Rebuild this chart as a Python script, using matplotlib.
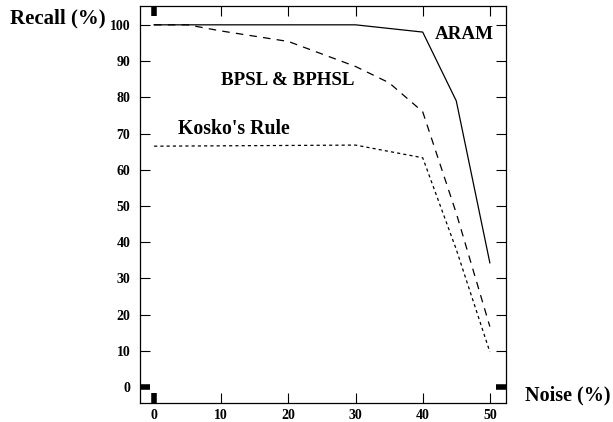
import matplotlib
matplotlib.use("Agg")
import matplotlib.pyplot as plt

noise_aram = [0, 30, 40, 45, 50]
recall_aram = [100, 100, 98, 79, 34.3]

noise_bpsl = [0, 5, 10, 20, 30, 35, 40, 45, 50]
recall_bpsl = [100, 100, 98.3, 95.4, 88.5, 84, 76, 48, 16.7]

noise_kosko = [0, 30, 40, 45, 50]
recall_kosko = [66.5, 66.8, 63.3, 38, 9.7]

xticks = [0, 10, 20, 30, 40, 50]
yticks = [0, 10, 20, 30, 40, 50, 60, 70, 80, 90, 100]

plt.rcParams['font.family'] = ['Liberation Serif', 'DejaVu Serif']

fig = plt.figure(figsize=(6.13, 4.22), dpi=100)
ax = fig.add_axes([0.2284, 0.045, 0.597, 0.9408])

ax.plot(noise_aram, recall_aram, color='black', lw=0.9)
ax.plot(noise_bpsl, recall_bpsl, color='black', lw=0.9, linestyle=(0, (6, 5)))
ax.plot(noise_kosko, recall_kosko, color='black', lw=0.9, linestyle=(0, (2.5, 2.5)))

ax.set_xlim(-2.1, 52.4)
ax.set_ylim(-4.4, 105.2)
ax.set_xticks(xticks)
ax.set_yticks(yticks)
ax.set_xticklabels([str(t) for t in xticks], fontweight='bold', fontsize=10)
ax.set_yticklabels([str(t) for t in yticks], fontweight='bold', fontsize=10)
ax.tick_params(axis='y', direction='in', length=7, width=0.8, right=True, pad=7)
ax.tick_params(axis='x', direction='in', length=7, width=0.8, top=True, pad=4)
for s in ax.spines.values():
    s.set_linewidth(0.9)

# thick zero ticks
xt = ax.xaxis.get_major_ticks()[0]
xt.tick1line.set_markeredgewidth(4)
xt.tick2line.set_markeredgewidth(4)
yt = ax.yaxis.get_major_ticks()[0]
yt.tick1line.set_markeredgewidth(4)
yt.tick2line.set_markeredgewidth(4)

fig.text(0.016, 0.957, 'Recall (%)', fontsize=15, fontweight='bold', ha='left', va='center')
fig.text(0.856, 0.064, 'Noise (%)', fontsize=14.5, fontweight='bold', ha='left', va='center')

ax.text(41.8, 97.3, 'ARAM', fontsize=13.7, fontweight='bold', ha='left', va='center')
ax.text(10, 84.5, 'BPSL & BPHSL', fontsize=13.7, fontweight='bold', ha='left', va='center')
ax.text(3.5, 71.2, "Kosko's Rule", fontsize=14.2, fontweight='bold', ha='left', va='center')

fig.savefig('out.png', dpi=100)
